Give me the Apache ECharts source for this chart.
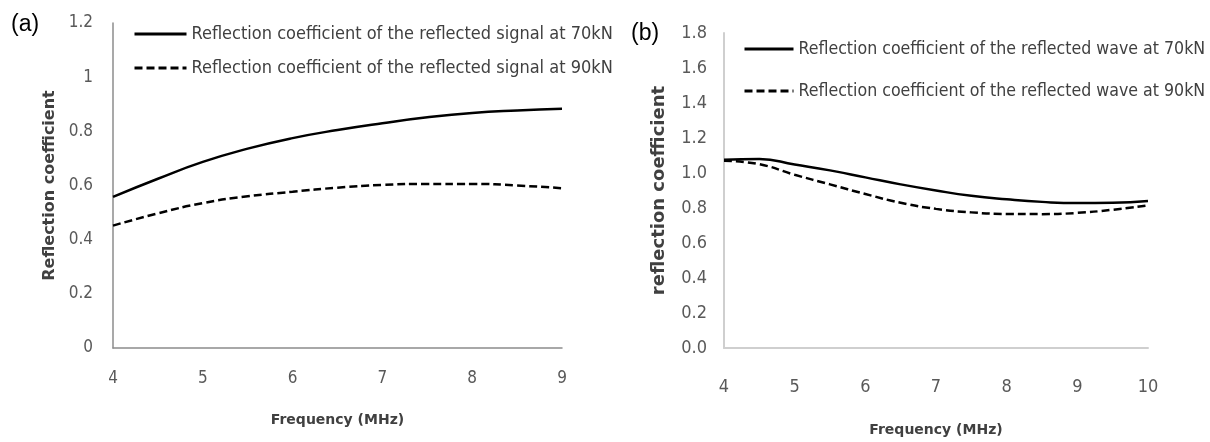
<!DOCTYPE html>
<html>
<head>
<meta charset="utf-8">
<script src="https://cdn.jsdelivr.net/npm/echarts@6/dist/echarts.min.js"></script>
<style>
  html, body { margin: 0; padding: 0; background: #fff; }
  #chart { width: 1210px; height: 442px; }
</style>
</head>
<body>
<div id="chart"></div>
<script>
// panel (a): frequency in MHz
const freqA = [4, 4.5, 5, 5.5, 6, 6.5, 7, 7.5, 8, 8.5, 9]
const signal70 = [0.558, 0.625, 0.687, 0.736, 0.775, 0.805, 0.83, 0.852, 0.868, 0.877, 0.883]
const signal90 = [0.452, 0.497, 0.535, 0.56, 0.577, 0.592, 0.602, 0.606, 0.606, 0.6, 0.59]
const ticksA = [0, 0.2, 0.4, 0.6, 0.8, 1, 1.2]

// panel (b)
const freqB = [4, 4.5, 5, 5.5, 6, 6.5, 7, 7.5, 8, 8.5, 9, 9.5, 10]
const wave70 = [1.076, 1.08, 1.048, 1.015, 0.975, 0.935, 0.9, 0.87, 0.85, 0.835, 0.828, 0.83, 0.84]
const wave90 = [1.07, 1.05, 0.99, 0.935, 0.88, 0.83, 0.795, 0.775, 0.766, 0.765, 0.772, 0.79, 0.815]
const ticksB = ['0.0', '0.2', '0.4', '0.6', '0.8', '1.0', '1.2', '1.4', '1.6', '1.8']

const names = [
  'Reflection coefficient of the reflected signal at 70kN',
  'Reflection coefficient of the reflected signal at 90kN',
  'Reflection coefficient of the reflected wave at 70kN',
  'Reflection coefficient of the reflected wave at 90kN'
]

const narrow = '"Liberation Sans Narrow", "DejaVu Sans Condensed", sans-serif'
const bold = '"DejaVu Sans", "Liberation Sans", sans-serif'

function pairs(xs, ys) {
  return xs.map((x, i) => [x, ys[i]])
}

const chart = echarts.init(document.getElementById('chart'))

function line(name, idx, xs, ys, dashed) {
  return {
    name: name,
    type: 'line',
    xAxisIndex: idx,
    yAxisIndex: idx,
    smooth: true,
    symbol: 'none',
    color: '#000',
    data: pairs(xs, ys),
    lineStyle: {
      color: '#000',
      width: 2.5,
      type: dashed ? [8, 4] : 'solid'
    }
  }
}

chart.setOption({
  animation: false,
  title: [
    { text: '(a)', left: 6, top: 8, textStyle: { fontFamily: 'Liberation Sans', fontWeight: 'normal', fontSize: 23, color: '#000' } },
    { text: '(b)', left: 626, top: 17, textStyle: { fontFamily: 'Liberation Sans', fontWeight: 'normal', fontSize: 23, color: '#000' } }
  ],
  legend: [
    {
      orient: 'vertical', left: 128, top: 20, itemWidth: 52, itemHeight: 14, itemGap: 16,
      data: [names[0], names[1]],
      itemStyle: { opacity: 0 },
      lineStyle: { width: 3 },
      textStyle: { fontFamily: narrow, fontSize: 18, color: '#404040' }
    },
    {
      orient: 'vertical', left: 738, top: 35, itemWidth: 49, itemHeight: 14, itemGap: 24,
      data: [names[2], names[3]],
      itemStyle: { opacity: 0 },
      lineStyle: { width: 3 },
      textStyle: { fontFamily: narrow, fontSize: 17.6, color: '#404040' }
    }
  ],
  grid: [
    { left: 113, top: 23, width: 449, height: 325 },
    { left: 724, top: 33, width: 424, height: 320 }
  ],
  xAxis: [
    {
      gridIndex: 0, type: 'value', min: 4, max: 9, interval: 1,
      name: 'Frequency (MHz)', nameLocation: 'middle', nameGap: 65,
      nameTextStyle: { fontFamily: bold, fontWeight: 'bold', fontSize: 14, color: '#404040' },
      axisLine: { lineStyle: { color: '#8c8c8c', width: 1.5 } },
      axisTick: { show: false },
      splitLine: { show: false },
      axisLabel: { margin: 22, fontFamily: narrow, fontSize: 17, color: '#595959' }
    },
    {
      gridIndex: 1, type: 'value', min: 4, max: 10, interval: 1,
      name: 'Frequency (MHz)', nameLocation: 'middle', nameGap: 75,
      nameTextStyle: { fontFamily: bold, fontWeight: 'bold', fontSize: 14, color: '#404040' },
      axisLine: { lineStyle: { color: '#cfcfcf', width: 2 } },
      axisTick: { show: false },
      splitLine: { show: false },
      axisLabel: { margin: 30, fontFamily: narrow, fontSize: 18, color: '#595959' }
    }
  ],
  yAxis: [
    {
      gridIndex: 0, type: 'value', min: 0, max: 1.2, interval: 0.2,
      name: 'Reflection coefficient', nameLocation: 'middle', nameGap: 55,
      nameTextStyle: { fontFamily: bold, fontWeight: 'bold', fontSize: 16, color: '#404040' },
      axisLine: { show: true, lineStyle: { color: '#8c8c8c', width: 1.5 } },
      axisTick: { show: false },
      splitLine: { show: false },
      axisLabel: {
        margin: 20, fontFamily: narrow, fontSize: 17, color: '#595959',
        formatter: v => String(ticksA[Math.round(v / 0.2)])
      }
    },
    {
      gridIndex: 1, type: 'value', min: 0, max: 1.8, interval: 0.2,
      name: 'reflection coefficient', nameLocation: 'middle', nameGap: 56,
      nameTextStyle: { fontFamily: bold, fontWeight: 'bold', fontSize: 18, color: '#404040' },
      axisLine: { show: true, lineStyle: { color: '#cfcfcf', width: 2 } },
      axisTick: { show: false },
      splitLine: { show: false },
      axisLabel: {
        margin: 17, fontFamily: narrow, fontSize: 18, color: '#595959',
        formatter: v => ticksB[Math.round(v / 0.2)]
      }
    }
  ],
  series: [
    line(names[0], 0, freqA, signal70, false),
    line(names[1], 0, freqA, signal90, true),
    line(names[2], 1, freqB, wave70, false),
    line(names[3], 1, freqB, wave90, true)
  ]
})
</script>
</body>
</html>
